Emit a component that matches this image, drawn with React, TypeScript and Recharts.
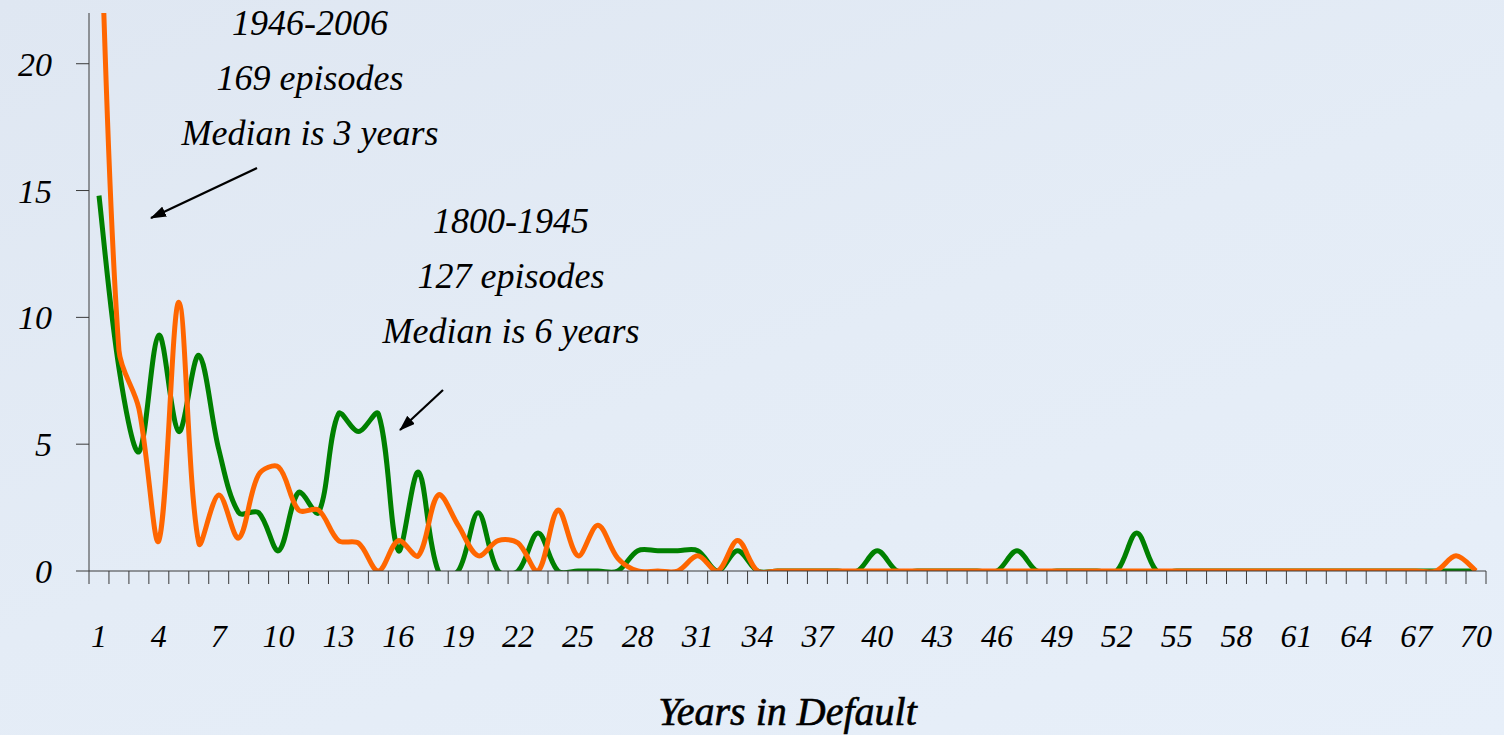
import React from 'react';
import { LineChart, Line, XAxis, YAxis } from 'recharts';

const years = [
  1, 2, 3, 4, 5, 6, 7, 8, 9, 10, 11, 12, 13, 14, 15, 16, 17, 18, 19, 20,
  21, 22, 23, 24, 25, 26, 27, 28, 29, 30, 31, 32, 33, 34, 35, 36, 37, 38, 39, 40,
  41, 42, 43, 44, 45, 46, 47, 48, 49, 50, 51, 52, 53, 54, 55, 56, 57, 58, 59, 60,
  61, 62, 63, 64, 65, 66, 67, 68, 69, 70,
];

// 1800-1945 (127 episodes), percent of episodes
const share1800to1945 = [
  14.8, 8.0, 4.7, 9.3, 5.5, 8.5, 4.8, 2.3, 2.3, 0.8,
  3.1, 2.3, 6.2, 5.5, 6.2, 0.8, 3.9, 0, 0, 2.3,
  0, 0, 1.5, 0, 0, 0, 0, 0.8, 0.8, 0.8,
  0.8, 0, 0.8, 0, 0, 0, 0, 0, 0, 0.8,
  0, 0, 0, 0, 0, 0, 0.8, 0, 0, 0,
  0, 0, 1.5, 0, 0, 0, 0, 0, 0, 0,
  0, 0, 0, 0, 0, 0, 0, 0, 0, 0,
];

// 1946-2006 (169 episodes), percent of episodes
const share1946to2006 = [
  28, 8.7, 6.4, 1.2, 10.6, 1.1, 3.0, 1.3, 3.8, 4.1,
  2.4, 2.4, 1.2, 1.1, 0, 1.2, 0.6, 3.0, 1.8, 0.6,
  1.2, 1.1, 0, 2.4, 0.6, 1.8, 0.5, 0, 0, 0,
  0.6, 0, 1.2, 0, 0, 0, 0, 0, 0, 0,
  0, 0, 0, 0, 0, 0, 0, 0, 0, 0,
  0, 0, 0, 0, 0, 0, 0, 0, 0, 0,
  0, 0, 0, 0, 0, 0, 0, 0, 0.6, 0,
];

const yTicks = [0, 5, 10, 15, 20];
const xLabelEvery = 3;

const note1946 = ['1946-2006', '169 episodes', 'Median is 3 years'];
const note1800 = ['1800-1945', '127 episodes', 'Median is 6 years'];

const data = years.map((year, i) => ({
  year,
  early: share1800to1945[i],
  late: share1946to2006[i],
}));

const FONT = "'Liberation Serif', 'DejaVu Serif', serif";
const AXIS = '#3a3a3a';

// Length-weighted cardinal smoothing, close to Excel's "smoothed line"
function smoothCurve(context: any) {
  let pts: number[][] = [];
  const dist = (a: number[], b: number[]) => Math.hypot(b[0] - a[0], b[1] - a[1]);
  return {
    areaStart() {},
    areaEnd() {},
    lineStart() {
      pts = [];
    },
    point(x: number, y: number) {
      pts.push([+x, +y]);
    },
    lineEnd() {
      const n = pts.length;
      if (!n) return;
      context.moveTo(pts[0][0], pts[0][1]);
      if (n === 1) return;
      for (let i = 0; i < n - 1; i++) {
        const p0 = pts[i - 1] || pts[i];
        const p1 = pts[i];
        const p2 = pts[i + 1];
        const p3 = pts[i + 2] || p2;
        const d01 = dist(p0, p1);
        const d12 = dist(p1, p2);
        const d23 = dist(p2, p3);
        const fa = d01 + d12 > 0 ? d12 / (3 * (d01 + d12)) : 0;
        const fb = d12 + d23 > 0 ? d12 / (3 * (d12 + d23)) : 0;
        const ka = i === 0 ? 1 / 3 : fa;
        const kb = i === n - 2 ? 1 / 3 : fb;
        const c1x = p1[0] + (p2[0] - p0[0]) * (i === 0 ? 1 / 6 : ka);
        const c1y = p1[1] + (p2[1] - p0[1]) * (i === 0 ? 1 / 6 : ka);
        const c2x = p2[0] - (p3[0] - p1[0]) * (i === n - 2 ? 1 / 6 : kb);
        const c2y = p2[1] - (p3[1] - p1[1]) * (i === n - 2 ? 1 / 6 : kb);
        context.bezierCurveTo(c1x, c1y, c2x, c2y, p2[0], p2[1]);
      }
    },
  };
}

const XTick = (props: any) => {
  const { x, y, payload, index } = props;
  const half = 10;
  const isLast = payload.value === years[years.length - 1];
  return (
    <g>
      <line x1={x - half} y1={y} x2={x - half} y2={y + 13} stroke={AXIS} strokeWidth={1} />
      {isLast && <line x1={x + half} y1={y} x2={x + half} y2={y + 13} stroke={AXIS} strokeWidth={1} />}
      {index % xLabelEvery === 0 && (
        <text
          x={x}
          y={y + 76}
          textAnchor="middle"
          fontFamily={FONT}
          fontStyle="italic"
          fontSize={32}
          fill="#000"
        >
          {payload.value}
        </text>
      )}
    </g>
  );
};

const Note = ({ lines, x, y }: { lines: string[]; x: number; y: number }) => (
  <g>
    {lines.map((t, i) => (
      <text
        key={t}
        x={x}
        y={y + i * 55}
        textAnchor="middle"
        fontFamily={FONT}
        fontStyle="italic"
        fontSize={36}
        fill="#000"
      >
        {t}
      </text>
    ))}
  </g>
);

export default function App() {
  return (
    <div
      style={{
        position: 'fixed',
        left: 0,
        top: 0,
        width: 1504,
        height: 735,
        background: 'linear-gradient(160deg, #dfe7f2 0%, #e4ecf6 50%, #e7eff9 100%)',
        overflow: 'hidden',
      }}
    >
      <LineChart
        width={1504}
        height={735}
        data={data}
        margin={{ top: 13, right: 18, bottom: 0, left: 0 }}
      >
        <XAxis
          dataKey="year"
          height={164}
          padding={{ left: 10, right: 10 }}
          interval={0}
          tickLine={false}
          tickSize={0}
          tickMargin={0}
          tick={<XTick />}
          axisLine={{ stroke: AXIS, strokeWidth: 1 }}
          label={{
            value: 'Years in Default',
            position: 'insideBottom',
            offset: 10,
            style: {
              fontFamily: FONT,
              fontStyle: 'italic',
              fontSize: 40,
              fill: '#000',
              stroke: '#000',
              strokeWidth: 0.6,
            },
          }}
        />
        <YAxis
          width={89}
          domain={[0, 22]}
          ticks={yTicks}
          allowDataOverflow
          tickSize={13}
          tickMargin={24}
          axisLine={{ stroke: AXIS, strokeWidth: 1 }}
          tickLine={{ stroke: AXIS, strokeWidth: 1 }}
          tick={{ fontFamily: FONT, fontStyle: 'italic', fontSize: 34, fill: '#000' }}
        />
        <Line
          dataKey="early"
          type={smoothCurve as any}
          stroke="#008000"
          strokeWidth={5}
          dot={false}
          activeDot={false}
          isAnimationActive={false}
          strokeLinejoin="round"
        />
        <Line
          dataKey="late"
          type={smoothCurve as any}
          stroke="#ff6600"
          strokeWidth={5}
          dot={false}
          activeDot={false}
          isAnimationActive={false}
          strokeLinejoin="round"
        />
      </LineChart>
      <svg
        width={1504}
        height={735}
        style={{ position: 'absolute', left: 0, top: 0, pointerEvents: 'none' }}
      >
        <defs>
          <marker
            id="arrowHead"
            markerUnits="userSpaceOnUse"
            viewBox="0 0 16 11"
            markerWidth={16}
            markerHeight={11}
            refX={15}
            refY={5.5}
            orient="auto"
          >
            <path d="M0,0 L16,5.5 L0,11 z" fill="#000" />
          </marker>
        </defs>
        <Note lines={note1946} x={310} y={35} />
        <Note lines={note1800} x={511} y={233} />
        <line x1={257} y1={168} x2={151} y2={218} stroke="#000" strokeWidth={2.2} markerEnd="url(#arrowHead)" />
        <line x1={443} y1={390} x2={400} y2={430} stroke="#000" strokeWidth={2.2} markerEnd="url(#arrowHead)" />
      </svg>
    </div>
  );
}
